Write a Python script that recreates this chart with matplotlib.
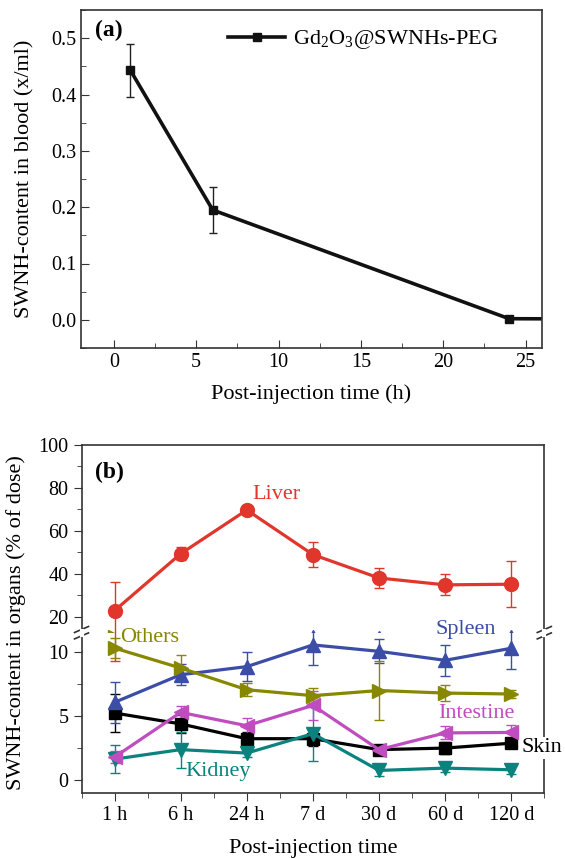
import numpy as np
import matplotlib
matplotlib.use("Agg")
import matplotlib.pyplot as plt
from matplotlib.ticker import MultipleLocator

plt.rcParams['font.family'] = ['Liberation Serif', 'DejaVu Serif']
plt.rcParams['mathtext.fontset'] = 'custom'
plt.rcParams['mathtext.rm'] = 'Liberation Serif'
plt.rcParams['mathtext.it'] = 'Liberation Serif'

# ===== DATA (a) blood =====
blood_t = [1, 6, 24, 48]
blood_val = [0.443, 0.195, 0.002, 0.0]
blood_err = [0.047, 0.040, 0.0, 0.0]

# ===== DATA (b) organs =====
time_labels = ['1 h', '6 h', '24 h', '7 d', '30 d', '60 d', '120 d']
liver = [22.8, 49.3, 69.7, 48.9, 38.0, 34.8, 35.1]
liver_err = [13.5, 3.0, 1.0, 6.0, 4.6, 4.9, 10.7]
spleen = [6.08, 8.23, 8.86, 10.55, 10.05, 9.35, 10.29]
spleen_err = [1.6, 0.8, 1.1, 1.55, 0.93, 1.2, 1.65]
others = [10.3, 8.75, 7.06, 6.6, 7.0, 6.8, 6.73]
others_err = [0.8, 1.0, 0.5, 0.6, 2.3, 0.6, 0.3]
skin = [5.25, 4.4, 3.25, 3.25, 2.4, 2.52, 2.9]
skin_err = [1.5, 0.7, 0.5, 0.6, 0.3, 0.5, 0.3]
intestine = [1.82, 5.3, 4.26, 5.84, 2.4, 3.7, 3.74]
intestine_err = [0.5, 0.5, 0.6, 1.1, 0.3, 0.5, 0.6]
kidney = [1.66, 2.4, 2.13, 3.64, 0.78, 0.96, 0.83]
kidney_err = [1.1, 1.4, 0.3, 2.1, 0.4, 0.3, 0.3]

W, H = 565, 859
fig = plt.figure(figsize=(W / 100, H / 100), dpi=100)

def box(l, t, r, b):
    # pixel box -> figure fraction
    return [l / W, 1 - b / H, (r - l) / W, (b - t) / H]

spine_c = '#333333'

# ===== PANEL (a) =====
ax = fig.add_axes(box(81, 10, 542, 348))
ax.errorbar(blood_t, blood_val, yerr=blood_err, fmt='none', capsize=3,
            elinewidth=1, ecolor='#222222')
ax.plot(blood_t, blood_val, color='#111111', lw=2.6, marker='s', ms=6,
        label='Gd$_2$O$_3$@SWNHs-PEG')
ax.set_xlim(-2, 26)
ax.set_ylim(-0.05, 0.55)
ax.xaxis.set_major_locator(MultipleLocator(5))
ax.xaxis.set_minor_locator(MultipleLocator(2.5))
ax.yaxis.set_major_locator(MultipleLocator(0.1))
ax.yaxis.set_minor_locator(MultipleLocator(0.05))
ax.yaxis.set_major_formatter(plt.FuncFormatter(lambda v, p: f"{v:.1f}"))
ax.tick_params(which='both', direction='in', labelsize=14.5, color=spine_c)
ax.tick_params(which='major', length=6)
ax.tick_params(which='minor', length=3.5)
for s in ax.spines.values():
    s.set_color(spine_c)
    s.set_linewidth(1.2)
ax.set_xlabel('Post-injection time (h)', fontsize=16, labelpad=9)
ax.set_ylabel('SWNH-content in blood (x/ml)', fontsize=16, labelpad=12)
ax.text(0.03, 0.97, '(a)', transform=ax.transAxes, fontsize=17,
        fontweight='bold', va='top', ha='left')
ax.legend(loc='upper right', bbox_to_anchor=(0.935, 0.985), frameon=False,
          fontsize=16, handlelength=2.6, handletextpad=0.35,
          borderaxespad=0.2)

# ===== PANEL (b) broken axis =====
ax_up = fig.add_axes(box(81.5, 445, 544.3, 632.7))
ax_lo = fig.add_axes(box(81.5, 632.7, 544.3, 793.3))

x = np.arange(len(time_labels))
series = [
    (skin, skin_err, 'black', 's', 8),
    (liver, liver_err, '#e0362c', 'o', 10),
    (spleen, spleen_err, '#3b4da6', '^', 10),
    (kidney, kidney_err, '#0b827e', 'v', 10),
    (others, others_err, '#878800', '>', 10),
    (intestine, intestine_err, '#c04dbf', '<', 10),
]
for a in (ax_up, ax_lo):
    for vals, err, c, m, ms in series:
        a.errorbar(x, vals, yerr=err, color=c, marker=m, ms=ms, lw=2.3,
                   capsize=3.5, elinewidth=1, capthick=1)
    a.set_xlim(-0.5, 6.5)
    for s in a.spines.values():
        s.set_color(spine_c)
        s.set_linewidth(1.2)
    a.tick_params(which='both', direction='out', labelsize=14.5, color=spine_c)
    a.tick_params(which='major', length=6)
    a.tick_params(which='minor', length=3.5)

ax_up.set_ylim(12.5, 100)
ax_up.yaxis.set_major_locator(MultipleLocator(20))
ax_up.yaxis.set_minor_locator(MultipleLocator(10))
ax_up.spines['bottom'].set_visible(False)
ax_up.tick_params(axis='x', which='both', bottom=False, labelbottom=False)

ax_lo.set_ylim(-1, 11.5)
ax_lo.yaxis.set_major_locator(MultipleLocator(5))
ax_lo.yaxis.set_minor_locator(MultipleLocator(2.5))
ax_lo.spines['top'].set_visible(False)
ax_lo.set_xticks(x)
ax_lo.set_xticklabels(time_labels)
ax_lo.xaxis.set_minor_locator(MultipleLocator(0.5))
ax_lo.tick_params(axis='x', which='minor', length=3.5)
ax_lo.set_xlabel('Post-injection time', fontsize=16, labelpad=10)

# break marks
yb = 1 - 632.7 / H
for xp in (81.5, 544.3):
    for dy in (-3.2, 3.2):
        fig.add_artist(plt.Line2D([(xp - 7) / W, (xp + 7) / W],
                                  [yb + (dy - 3) / H, yb + (dy + 3) / H],
                                  color=spine_c, lw=1.2))
    fig.add_artist(plt.Line2D([xp / W, xp / W], [yb - 2.2 / H, yb + 2.2 / H],
                              color='white', lw=3))

fig.text(16 / W, 1 - 623 / H, 'SWNH-content in organs (% of dose)',
         rotation=90, fontsize=16, ha='center', va='center')

ax_up.text(0.03, 0.91, '(b)', transform=ax_up.transAxes, fontsize=17,
           fontweight='bold', va='top', ha='left')
ax_up.text(2.45, 77, 'Liver', color='#e0362c', fontsize=16, ha='center', va='center')
ax_lo.text(0.53, 11.1, 'Others', color='#878800', fontsize=16, ha='center', va='center')
ax_lo.text(5.31, 11.75, 'Spleen', color='#3b4da6', fontsize=16, ha='center', va='center')
ax_lo.text(5.47, 5.25, 'Intestine', color='#c04dbf', fontsize=16, ha='center', va='center')
ax_lo.text(1.57, 0.7, 'Kidney', color='#0b827e', fontsize=16, ha='center', va='center')
ax_lo.text(6.16, 2.55, 'Skin', color='black', fontsize=16, ha='left', va='center',
           zorder=10, bbox=dict(facecolor='white', edgecolor='none', pad=1))

fig.savefig('out.png', dpi=100)
